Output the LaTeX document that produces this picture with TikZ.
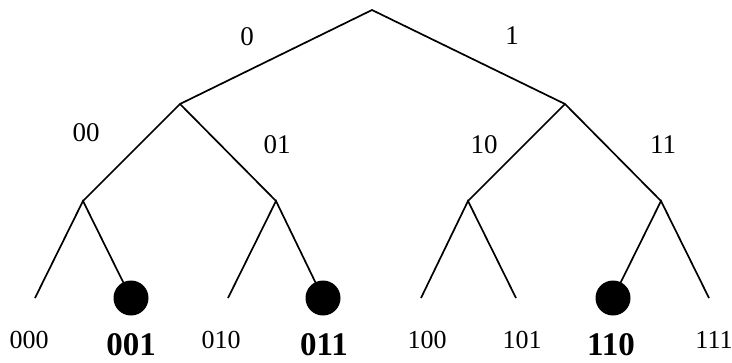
\documentclass[tikz,border=0pt]{standalone}
\usepackage{fontspec}
\setmainfont{Liberation Serif}
\usepackage{tkz-euclide}
\tikzset{
  branch/.style={line width=1.7pt},
  bitlabel/.style={inner sep=0pt,font=\fontsize{27}{32}\selectfont},
  leaflabel/.style={inner sep=0pt,anchor=base,font=\fontsize{26}{31}\selectfont},
  hitlabel/.style={inner sep=0pt,anchor=base,font=\fontsize{33}{38}\selectfont\bfseries},
  leafdot/.style={circle,fill=black,inner sep=0pt,minimum size=35pt},
}

\begin{document}
\begin{tikzpicture}[x=1pt,y=-1pt]
            \useasboundingbox (0,0) rectangle (732,362);
            \tkzDefPoint(372,10){R}
            \tkzDefPoint(180,104){N0}
            \tkzDefPoint(565,104){N1}
            \tkzDefPoint(83,201){N00}
            \tkzDefPoint(276,201){N01}
            \tkzDefPoint(468,201){N10}
            \tkzDefPoint(661,201){N11}
            \tkzDefPoint(35,298){L000}
            \tkzDefPoint(131,298){L001}
            \tkzDefPoint(228,298){L010}
            \tkzDefPoint(323,298){L011}
            \tkzDefPoint(421,298){L100}
            \tkzDefPoint(516,298){L101}
            \tkzDefPoint(613,298){L110}
            \tkzDefPoint(709,298){L111}
            \draw[branch] (N0) -- (R) -- (N1);
            \draw[branch] (N00) -- (N0) -- (N01);
            \draw[branch] (N10) -- (N1) -- (N11);
            \draw[branch] (L000) -- (N00) -- (L001);
            \draw[branch] (L010) -- (N01) -- (L011);
            \draw[branch] (L100) -- (N10) -- (L101);
            \draw[branch] (L110) -- (N11) -- (L111);
            \node[leafdot] (d001) at (L001) {};
            \node[leafdot] (d011) at (L011) {};
            \node[leafdot] (d110) at (L110) {};
            % edge labels
            \node[bitlabel] (b0) at (247,37) {0};
            \node[bitlabel] (b1) at (512,36) {1};
            \node[bitlabel] (b00) at (86,133) {00};
            \node[bitlabel] (b01) at (277,145) {01};
            \node[bitlabel] (b10) at (484,145) {10};
            \node[bitlabel] (b11) at (663,145) {11};
            % leaf labels
            \node[leaflabel] (t000) at (29,348) {000};
            \node[hitlabel] (t001) at (131,355) {001};
            \node[leaflabel] (t010) at (221,348) {010};
            \node[hitlabel] (t011) at (324,355) {011};
            \node[leaflabel] (t100) at (427,348) {100};
            \node[leaflabel] (t101) at (522,348) {101};
            \node[hitlabel] (t110) at (611,355) {110};
            \node[leaflabel] (t111) at (714,348) {111};
        \end{tikzpicture}
\end{document}
